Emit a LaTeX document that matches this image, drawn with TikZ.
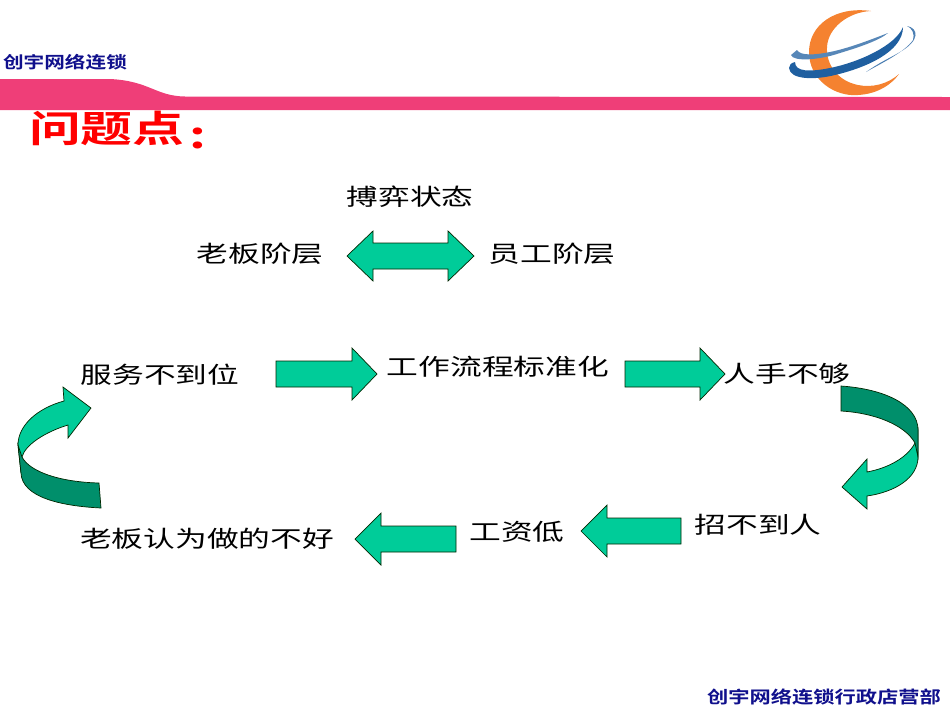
\documentclass[tikz,border=0pt]{standalone}
\usepackage{fontspec}
\newfontfamily\cjk[FakeStretch=1.38]{Noto Sans CJK SC}
\newfontfamily\cjkbold[FakeStretch=1.25,BoldFont={Noto Sans CJK SC Bold}]{Noto Sans CJK SC}
\newfontfamily\cjktitle[FakeStretch=1.4,BoldFont={Noto Sans CJK SC Bold}]{Noto Sans CJK SC}
\definecolor{pinkband}{HTML}{EF3E78}
\definecolor{navy}{HTML}{10108C}
\definecolor{lightgreen}{HTML}{00CC99}
\definecolor{darkgreen}{HTML}{008F6B}
\definecolor{logoorange}{HTML}{F58230}
\definecolor{logoblue}{HTML}{1F5FA0}
\tikzset{
  label text/.style={font=\cjk\fontsize{23}{25}\selectfont,text=black,inner sep=0pt},
  brand text/.style={font=\cjkbold\bfseries\fontsize{16.5}{18}\selectfont,text=navy,inner sep=0pt},
  block/.style={draw=black!85!green,line width=0.7pt,fill=lightgreen,line join=miter},
  block dark/.style={block,fill=darkgreen},
}
\begin{document}
\begin{tikzpicture}[x=1pt,y=-1pt]
\useasboundingbox (0,0) rectangle (950,713);
% header band
\fill[pinkband] (0,79) -- (110,79) .. controls (150,81) and (155,96) .. (185,96.5) -- (950,97) -- (950,110) -- (0,110) -- cycle;
% logo
\fill[logoorange] (871,11) .. controls (835,6) and (809,25) .. (809,52)
  .. controls (809,80) and (835,97) .. (858,95) .. controls (878,94) and (892,84) .. (899,74)
  .. controls (888,84) and (872,88) .. (858,85) .. controls (838,81) and (826,65) .. (827,47)
  .. controls (828,28) and (848,12) .. (871,11) -- cycle;
\fill[logoblue] (789,68) .. controls (790,80) and (815,80) .. (835,75) .. controls (865,68) and (903,52) .. (903,27)
  .. controls (896,45) and (860,62) .. (830,68) .. controls (810,72) and (795,72) .. (795,62) .. controls (791,63) and (789,65) .. (789,68) -- cycle;
\fill[logoblue!75] (791,55) .. controls (793,62) and (820,60) .. (840,53) .. controls (860,47) and (880,40) .. (888,33)
  .. controls (875,38) and (850,48) .. (830,52) .. controls (815,55) and (800,56) .. (797,50) -- cycle;
\fill[logoblue!80] (907,26) .. controls (918,28) and (921,40) .. (900,52) .. controls (890,58) and (880,62) .. (866,72)
  .. controls (880,64) and (905,52) .. (913,40) .. controls (915,34) and (912,28) .. (907,26) -- cycle;
% texts
\node[brand text] (brandtop) at (65,62) {创宇网络连锁};
\node[brand text,font=\cjkbold\bfseries\fontsize{17}{19}\selectfont] (brandbottom) at (824,697) {创宇网络连锁行政店营部};
\node[anchor=base west,inner sep=0pt,text=red,font=\cjktitle\bfseries\fontsize{37}{40}\selectfont] (title) at (29,142) {问题点\hspace{5pt}\raisebox{-6pt}{:}};
\node[label text] (game) at (410,197) {搏弈状态};
\node[label text] (boss) at (260,254) {老板阶层};
\node[label text] (staff) at (552,254) {员工阶层};
\node[label text] (service) at (160,375) {服务不到位};
\node[label text] (process) at (498,367) {工作流程标准化};
\node[label text] (short) at (787,374) {人手不够};
\node[label text] (hire) at (758,525) {招不到人};
\node[label text] (wage) at (517,532) {工资低};
\node[label text] (bad) at (207,539) {老板认为做的不好};
% block arrows
\draw[block] (347,256) -- (373,231) -- (373,243) -- (448,243) -- (448,231) -- (474,256) -- (448,281) -- (448,269) -- (373,269) -- (373,281) -- cycle;
\draw[block] (276,361) -- (352,361) -- (352,348) -- (377,374) -- (352,400) -- (352,387) -- (276,387) -- cycle;
\draw[block] (625,361) -- (700,361) -- (700,348) -- (725,374) -- (700,400) -- (700,387) -- (625,387) -- cycle;
\draw[block] (681,518) -- (607,518) -- (607,505) -- (581,531) -- (607,557) -- (607,544) -- (681,544) -- cycle;
\draw[block] (456,526) -- (381,526) -- (381,513) -- (355,539) -- (381,565) -- (381,552) -- (456,552) -- cycle;
% right curved arrow
\draw[block] (915,443) .. controls (907,458) and (888,468) .. (867,472) -- (867,459) -- (842,487) -- (867,509) -- (867,496)
  .. controls (895,492) and (918,478) .. (918,457) -- (918,430) -- cycle;
\draw[block dark] (841,386) .. controls (885,389) and (918,405) .. (918,430) -- (918,457) -- (915,443)
  .. controls (905,425) and (875,413) .. (841,411) -- cycle;
% left curved arrow
\draw[block] (22,457) .. controls (25,445) and (45,432) .. (68,425) -- (68,438) -- (91,408) -- (63,387) -- (64,401)
  .. controls (38,408) and (18,425) .. (18,445) -- (21,473) -- cycle;
\draw[block dark] (22,457) .. controls (30,472) and (60,482) .. (99,483) -- (101,508)
  .. controls (60,506) and (22,497) .. (21,473) -- (18,445) -- cycle;
\end{tikzpicture}
\end{document}
